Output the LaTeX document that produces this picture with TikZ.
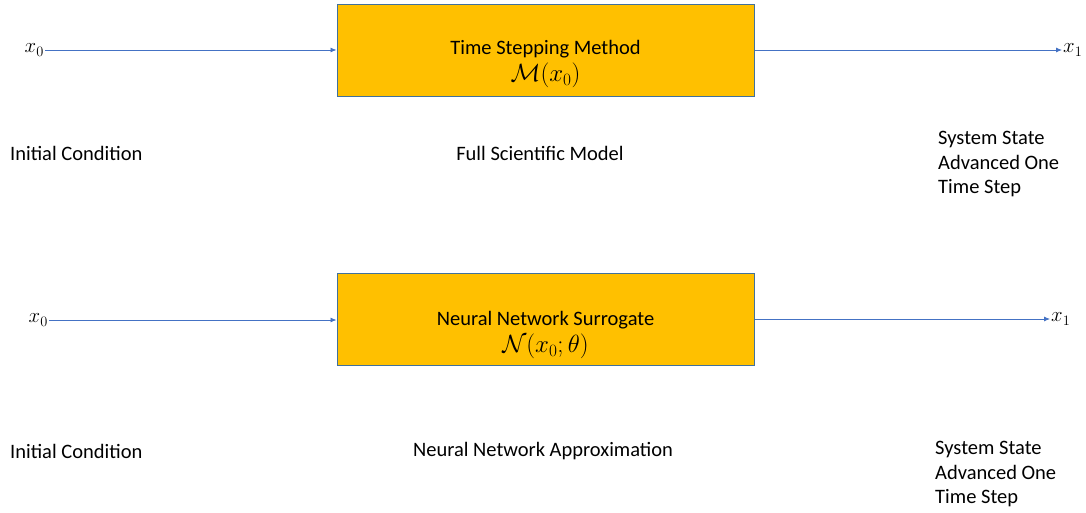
\documentclass[tikz,border=0pt]{standalone}
\usepackage{fontspec}
\usepackage{amsmath}
\setmainfont{Carlito}
\usetikzlibrary{arrows.meta}
\definecolor{boxfill}{HTML}{FFC000}
\definecolor{boxline}{HTML}{41719C}
\definecolor{flow}{HTML}{4472C4}
\newcommand{\bigmath}[1]{{\fontsize{23.5}{25}\selectfont$#1$}}
\tikzset{
  blockbox/.style={draw=boxline, line width=1pt, fill=boxfill, minimum width=417pt, minimum height=92pt, inner sep=0pt},
  boxtext/.style={inner sep=0pt, align=center, font=\fontsize{20.5}{27}\selectfont},
  flowline/.style={draw=flow, line width=0.8pt, -{Latex[length=6pt,width=5pt]}},
  caption/.style={font=\fontsize{20.5}{24.5}\selectfont, inner sep=0pt},
  var/.style={font=\fontsize{22}{24}\selectfont, inner sep=1pt}
}
\begin{document}
\begin{tikzpicture}[x=1pt,y=-1pt]
\useasboundingbox (0,0) rectangle (1086,513);

% full scientific model row
\node[blockbox] (tsm) at (545.5,51) {};
\node[boxtext] (tsmtxt) at (545.5,64) {Time Stepping Method\\\bigmath{\mathcal{M}(x_0)}};
\node[var, anchor=east] (in1) at (45,50) {$x_0$};
\node[var, anchor=west] (out1) at (1062,50) {$x_1$};
\draw[flowline] (in1.east) -- (tsm.west |- in1.east);
\draw[flowline] (tsm.east |- out1.west) -- (out1.west);
\node[caption, anchor=west] (ic1) at (10,153) {Initial Condition};
\node[caption] (fsm) at (540,153) {Full Scientific Model};
\node[caption, anchor=north west, align=left] (ss1) at (938,131) {System State\\Advanced One\\Time Step};

% surrogate row
\node[blockbox] (nns) at (545.5,319) {};
\node[boxtext] (nnstxt) at (545.5,335) {Neural Network Surrogate\\\bigmath{\mathcal{N}(x_0;\theta)}};
\node[var, anchor=east] (in2) at (49,320) {$x_0$};
\node[var, anchor=west] (out2) at (1050,319) {$x_1$};
\draw[flowline] (in2.east) -- (nns.west |- in2.east);
\draw[flowline] (nns.east |- out2.west) -- (out2.west);
\node[caption, anchor=west] (ic2) at (10,451) {Initial Condition};
\node[caption] (nna) at (543,451) {Neural Network Approximation};
\node[caption, anchor=north west, align=left] (ss2) at (935,441) {System State\\Advanced One\\Time Step};
\end{tikzpicture}
\end{document}
